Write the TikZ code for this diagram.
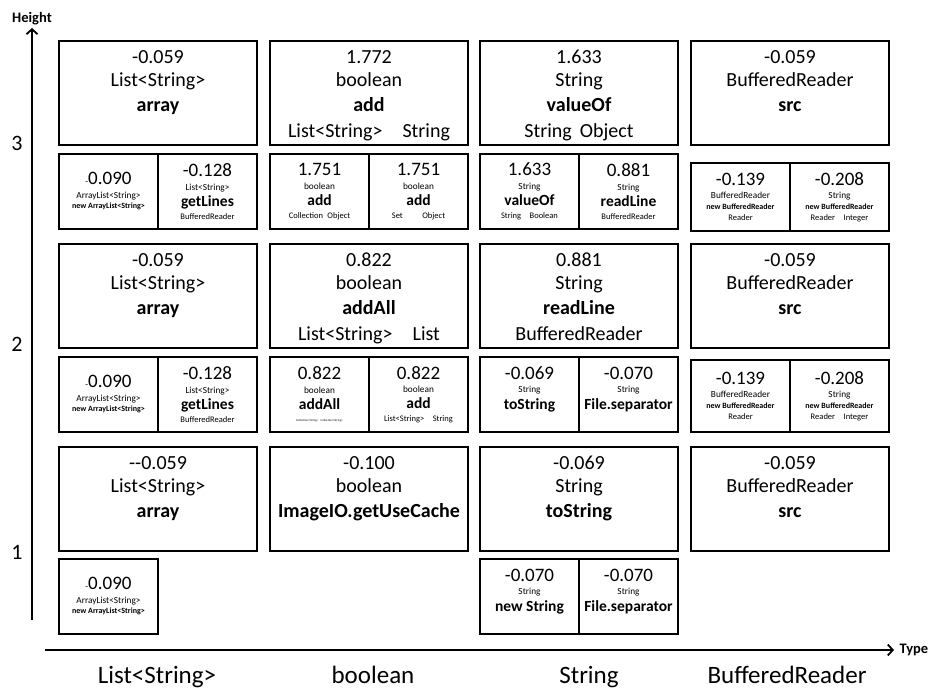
\documentclass[tikz,border=0pt]{standalone}
\usepackage{fontspec}
\setmainfont{Carlito}
\usetikzlibrary{positioning, arrows.meta}

% line spacing is given line by line with \\[..]
\newcommand{\cellfont}{\fontsize{9.3}{0pt}\selectfont\lineskiplimit=-\maxdimen}
\newcommand{\bigfont}{\fontsize{20}{0pt}\selectfont\lineskiplimit=-\maxdimen}
\newcommand{\numsz}{\fontsize{19}{22}\selectfont}
\newcommand{\methsz}{\fontsize{15.5}{17}\selectfont\bfseries}
\newcommand{\tnysz}{\fontsize{8}{9}\selectfont\bfseries}
\newcommand{\parsz}{\fontsize{8.5}{10}\selectfont}
\newcommand{\minus}{{\fontsize{9}{10}\selectfont-}}

\begin{document}
\begin{tikzpicture}[x=1pt, y=-1pt,
    bigbox/.style={draw, line width=2pt, outer sep=0pt, minimum width=198pt, minimum height=104pt},
    bigtext/.style={align=center, inner sep=0pt, font=\bigfont},
    cell/.style={draw, line width=2pt, outer sep=0pt, minimum width=99pt, minimum height=75pt,
      align=center, inner sep=0pt, font=\cellfont},
    axis/.style={line width=1.8pt, -{Straight Barb[length=5pt, width=11pt]}},
    axlabel/.style={font=\fontsize{14.5}{16}\selectfont\bfseries},
    level/.style={font=\fontsize{22}{26}\selectfont},
    typename/.style={anchor=base, font=\fontsize{25}{28}\selectfont}]
  \useasboundingbox (0,0) rectangle (931,690);

  % axes
  \coordinate (yfoot) at (32,620);
  \coordinate (ytip) at (32,28);
  \coordinate (xfoot) at (45,650);
  \coordinate (xtip) at (894,650);
  \draw[axis] (yfoot) -- (ytip);
  \draw[axis] (xfoot) -- (xtip);
  \node[axlabel, above=0pt of ytip] (height) {Height};
  \node[axlabel, right=2pt of xtip] (type) {Type};

  \node[level] (lev3) at (17,143) {3};
  \node[level] (lev2) at (17,344) {2};
  \node[level] (lev1) at (17,552) {1};

  \node[typename] (ty1) at (157,683) {List<String>};
  \node[typename] (ty2) at (373,683) {boolean};
  \node[typename] (ty3) at (589,683) {String};
  \node[typename] (ty4) at (787,683) {BufferedReader};

  % height 3
  \node[bigbox] (big31) at (158,93) {};
  \node[bigbox] (big32) at (369,93) {};
  \node[bigbox] (big33) at (579,93) {};
  \node[bigbox] (big34) at (790,93) {};
  \node[bigtext, below=9pt of big31.north] (txt31) {-0.059\\[23pt]List<String>\\[25pt]\textbf{array}};
  \node[bigtext, below=9pt of big32.north] (txt32) {1.772\\[23pt]boolean\\[25pt]\textbf{add}\\[26pt]List<String>\hspace{1em}String};
  \node[bigtext, below=9pt of big33.north] (txt33) {1.633\\[23pt]String\\[25pt]\textbf{valueOf}\\[26pt]String\hspace{0.4em}Object};
  \node[bigtext, below=9pt of big34.north] (txt34) {-0.059\\[23pt]BufferedReader\\[25pt]\textbf{src}};

  \node[cell, below right=9pt and 0pt of big31.south west] (c31l)
    {{\numsz\minus0.090}\\[14pt]ArrayList<String>\\[10pt]{\tnysz new ArrayList<String>}};
  \node[cell, right=0pt of c31l] (c31r)
    {{\numsz -0.128}\\[13.5pt]List<String>\\[16pt]{\methsz getLines}\\[13pt]{\parsz BufferedReader}};
  \node[cell, below right=9pt and 0pt of big32.south west] (c32l)
    {{\numsz 1.751}\\[13.5pt]boolean\\[16pt]{\methsz add}\\[13pt]{\parsz Collection\hspace{0.5em}Object}};
  \node[cell, right=0pt of c32l] (c32r)
    {{\numsz 1.751}\\[13.5pt]boolean\\[16pt]{\methsz add}\\[13pt]{\parsz Set\hspace{2.3em}Object}};
  \node[cell, below right=9pt and 0pt of big33.south west] (c33l)
    {{\numsz 1.633}\\[13.5pt]String\\[16pt]{\methsz valueOf}\\[13pt]{\parsz String\hspace{1em}Boolean}};
  \node[cell, right=0pt of c33l] (c33r)
    {{\numsz 0.881}\\[13.5pt]String\\[16pt]{\methsz readLine}\\[13pt]{\parsz BufferedReader}};
  \node[cell, minimum height=68pt, below right=18pt and 0pt of big34.south west] (c34l)
    {{\numsz -0.139}\\[13pt]BufferedReader\\[11pt]{\tnysz new BufferedReader}\\[11pt]{\parsz Reader}};
  \node[cell, minimum height=68pt, right=0pt of c34l] (c34r)
    {{\numsz -0.208}\\[13pt]String\\[11pt]{\tnysz new BufferedReader}\\[11pt]{\parsz Reader\hspace{1em}Integer}};

  % height 2
  \node[bigbox] (big21) at (158,296) {};
  \node[bigbox] (big22) at (369,296) {};
  \node[bigbox] (big23) at (579,296) {};
  \node[bigbox] (big24) at (790,296) {};
  \node[bigtext, below=9pt of big21.north] (txt21) {-0.059\\[23pt]List<String>\\[25pt]\textbf{array}};
  \node[bigtext, below=9pt of big22.north] (txt22) {0.822\\[23pt]boolean\\[25pt]\textbf{addAll}\\[26pt]List<String>\hspace{1em}List};
  \node[bigtext, below=9pt of big23.north] (txt23) {0.881\\[23pt]String\\[25pt]\textbf{readLine}\\[26pt]BufferedReader};
  \node[bigtext, below=9pt of big24.north] (txt24) {-0.059\\[23pt]BufferedReader\\[25pt]\textbf{src}};

  \node[cell, below right=9pt and 0pt of big21.south west] (c21l)
    {{\numsz\minus0.090}\\[14pt]ArrayList<String>\\[10pt]{\tnysz new ArrayList<String>}};
  \node[cell, right=0pt of c21l] (c21r)
    {{\numsz -0.128}\\[13.5pt]List<String>\\[16pt]{\methsz getLines}\\[13pt]{\parsz BufferedReader}};
  \node[cell, below right=9pt and 0pt of big22.south west] (c22l)
    {{\numsz 0.822}\\[13.5pt]boolean\\[16pt]{\methsz addAll}\\[12pt]{\fontsize{3}{4}\selectfont Collection<String>\hspace{0.8em}Collection<String>}};
  \node[cell, right=0pt of c22l] (c22r)
    {{\numsz 0.822}\\[13.5pt]boolean\\[16pt]{\methsz add}\\[13pt]{\parsz List<String>\hspace{1em}String}};
  \node[cell, below right=9pt and 0pt of big23.south west] (c23l)
    {{\numsz -0.069}\\[13pt]String\\[17pt]{\methsz toString}\\[13pt]\mbox{}};
  \node[cell, right=0pt of c23l] (c23r)
    {{\numsz -0.070}\\[13pt]String\\[17pt]{\methsz File.separator}\\[13pt]\mbox{}};
  \node[cell, minimum height=72pt, below right=12pt and 0pt of big24.south west] (c24l)
    {{\numsz -0.139}\\[13pt]BufferedReader\\[11pt]{\tnysz new BufferedReader}\\[11pt]{\parsz Reader}};
  \node[cell, minimum height=72pt, right=0pt of c24l] (c24r)
    {{\numsz -0.208}\\[13pt]String\\[11pt]{\tnysz new BufferedReader}\\[11pt]{\parsz Reader\hspace{1em}Integer}};

  % height 1
  \node[bigbox] (big11) at (158,499) {};
  \node[bigbox] (big12) at (369,499) {};
  \node[bigbox] (big13) at (579,499) {};
  \node[bigbox] (big14) at (790,499) {};
  \node[bigtext, below=9pt of big11.north] (txt11) {-{}-0.059\\[23pt]List<String>\\[25pt]\textbf{array}};
  \node[bigtext, below=9pt of big12.north] (txt12) {-0.100\\[23pt]boolean\\[25pt]\textbf{ImageIO.getUseCache}};
  \node[bigtext, below=9pt of big13.north] (txt13) {-0.069\\[23pt]String\\[25pt]\textbf{toString}};
  \node[bigtext, below=9pt of big14.north] (txt14) {-0.059\\[23pt]BufferedReader\\[25pt]\textbf{src}};

  \node[cell, below right=8pt and 0pt of big11.south west] (c11l)
    {{\numsz\minus0.090}\\[14pt]ArrayList<String>\\[10pt]{\tnysz new ArrayList<String>}};
  \node[cell, below right=8pt and 0pt of big13.south west] (c13l)
    {{\numsz -0.070}\\[13pt]String\\[17pt]{\methsz new String}\\[13pt]\mbox{}};
  \node[cell, right=0pt of c13l] (c13r)
    {{\numsz -0.070}\\[13pt]String\\[17pt]{\methsz File.separator}\\[13pt]\mbox{}};
\end{tikzpicture}
\end{document}
